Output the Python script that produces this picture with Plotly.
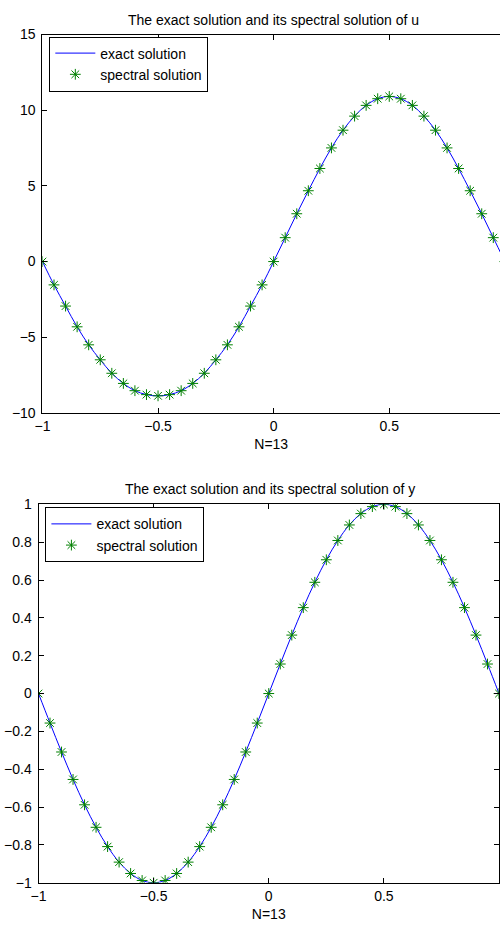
import plotly.graph_objects as go

# ---------------- data ----------------
x_nodes = [round(-1 + 0.05 * i, 2) for i in range(41)]

u_values = [0.0, -1.54, -2.94, -4.31, -5.50, -6.49, -7.38, -8.05, -8.53, -8.79,
            -8.87, -8.79, -8.53, -8.05, -7.38, -6.49, -5.50, -4.31, -2.94, -1.54,
            0.0, 1.58, 3.16, 4.68, 6.15, 7.51, 8.68, 9.61, 10.32, 10.76,
            10.91, 10.76, 10.32, 9.61, 8.68, 7.51, 6.15, 4.68, 3.16, 1.58, 0.0]

y_values = [0.0, -0.156, -0.309, -0.454, -0.588, -0.707, -0.809, -0.891, -0.951, -0.988,
            -1.0, -0.988, -0.951, -0.891, -0.809, -0.707, -0.588, -0.454, -0.309, -0.156,
            0.0, 0.156, 0.309, 0.454, 0.588, 0.707, 0.809, 0.891, 0.951, 0.988,
            1.0, 0.988, 0.951, 0.891, 0.809, 0.707, 0.588, 0.454, 0.309, 0.156, 0.0]

x_tickvals = [-1, -0.5, 0, 0.5, 1]
x_ticktext = ["\u22121", "\u22120.5", "0", "0.5", "1"]
u_tickvals = [-10, -5, 0, 5, 10, 15]
u_ticktext = ["\u221210", "\u22125", "0", "5", "10", "15"]
y_tickvals = [-1, -0.8, -0.6, -0.4, -0.2, 0, 0.2, 0.4, 0.6, 0.8, 1]
y_ticktext = ["\u22121", "\u22120.8", "\u22120.6", "\u22120.4", "\u22120.2", "0",
              "0.2", "0.4", "0.6", "0.8", "1"]

title_u = "The exact solution and its spectral solution of u"
title_y = "The exact solution and its spectral solution of y"
xlabel = "N=13"

W, H = 500, 933
FONT = "Liberation Sans, Arial, sans-serif"
FS = 14
LINE_BLUE = "rgb(0,0,255)"
GREEN = "rgb(0,128,0)"

fig = go.Figure()

# top subplot
fig.add_trace(go.Scatter(x=x_nodes, y=u_values, mode="lines", name="exact solution",
                         line=dict(color=LINE_BLUE, width=1, shape="spline"),
                         xaxis="x", yaxis="y", legend="legend"))
fig.add_trace(go.Scatter(x=x_nodes, y=u_values, mode="markers", name="spectral solution",
                         marker=dict(symbol="asterisk-open", size=9,
                                     line=dict(color=GREEN, width=1), color=GREEN),
                         xaxis="x", yaxis="y", legend="legend"))
# bottom subplot
fig.add_trace(go.Scatter(x=x_nodes, y=y_values, mode="lines", name="exact solution",
                         line=dict(color=LINE_BLUE, width=1, shape="spline"),
                         xaxis="x2", yaxis="y2", legend="legend2"))
fig.add_trace(go.Scatter(x=x_nodes, y=y_values, mode="markers", name="spectral solution",
                         marker=dict(symbol="asterisk-open", size=9,
                                     line=dict(color=GREEN, width=1), color=GREEN),
                         xaxis="x2", yaxis="y2", legend="legend2"))

tfont = dict(family=FONT, size=FS, color="black")
axis_common = dict(showline=True, linecolor="black", linewidth=1, ticks="inside",
                   ticklen=5, tickcolor="black", showgrid=False, zeroline=False,
                   tickfont=tfont)

top_y = (1 - 412 / H, 1 - 27 / H)
bot_y = (1 - 890 / H, 1 - 505 / H)

fig.update_layout(
    width=W, height=H,
    margin=dict(l=0, r=0, t=0, b=0),
    paper_bgcolor="white", plot_bgcolor="white",
    font=tfont,
    xaxis=dict(domain=[35 / W, 1.0], range=[-1, 0.979], anchor="y",
               tickvals=x_tickvals, ticktext=x_ticktext, mirror="ticks",
               title=dict(text=xlabel, standoff=6, font=tfont),
               **axis_common),
    yaxis=dict(domain=list(top_y), range=[-10, 15], anchor="x",
               tickvals=u_tickvals, ticktext=u_ticktext, mirror=False,
               ticklabelstandoff=3, **axis_common),
    xaxis2=dict(domain=[31 / W, 499 / W], range=[-1, 1], anchor="y2",
                tickvals=x_tickvals, ticktext=x_ticktext, mirror="ticks",
                title=dict(text=xlabel, standoff=6, font=tfont),
                **axis_common),
    yaxis2=dict(domain=list(bot_y), range=[-1, 1], anchor="x2",
                tickvals=y_tickvals, ticktext=y_ticktext, mirror="ticks",
                ticklabelstandoff=3, **axis_common),
    legend=dict(x=42 / W, y=1 - 29 / H, xanchor="left", yanchor="top",
                bgcolor="white", bordercolor="black", borderwidth=1,
                font=tfont, tracegroupgap=0, itemwidth=40),
    legend2=dict(x=38 / W, y=1 - 508 / H, xanchor="left", yanchor="top",
                 bgcolor="white", bordercolor="black", borderwidth=1,
                 font=tfont, tracegroupgap=0, itemwidth=40),
    showlegend=True,
    annotations=[
        dict(text=title_u, x=270 / W, y=1 - 12 / H, xref="paper", yref="paper",
             xanchor="center", yanchor="middle", showarrow=False, font=tfont),
        dict(text=title_y, x=266 / W, y=1 - 489 / H, xref="paper", yref="paper",
             xanchor="center", yanchor="middle", showarrow=False, font=tfont),
    ],
)

fig.write_html("out.html",
               config={"displayModeBar": False},
               post_script="document.body.style.margin='0';"
                           "document.body.style.padding='0';"
                           "document.body.style.overflow='hidden';")
